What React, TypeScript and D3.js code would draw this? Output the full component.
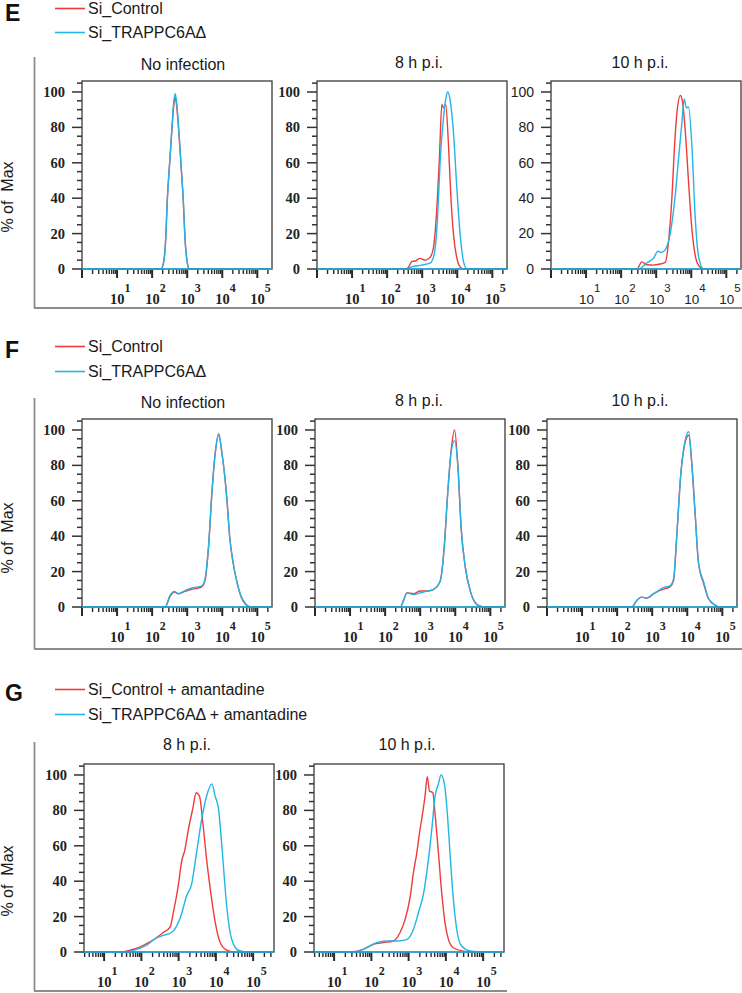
import React from 'react';
import * as d3 from 'd3';

const RED = '#ee3b3b';
const BLUE = '#22b5e8';

const xDecadeLabels = [1, 2, 3, 4, 5];
const yTickLabels = [0, 20, 40, 60, 80, 100];
const yTickValues = d3.range(0, 106, 5);

const legendEF = ['Si_Control', 'Si_TRAPPC6AΔ'];
const legendG = ['Si_Control + amantadine', 'Si_TRAPPC6AΔ + amantadine'];

// ---- E: No infection (log10 intensity, % of max)
const eNoInfLogX = [0, 2.25, 2.32, 2.39, 2.43, 2.5, 2.565, 2.62, 2.657, 2.695, 2.755, 2.82, 2.89, 2.935, 3.0, 3.06, 5.42];
const eNoInfRed = [0, 0, 3, 18, 38, 60, 79, 93, 97, 93, 79, 60, 38, 18, 4, 0, 0];
const eNoInfBlue = [0, 0, 3, 18, 38, 60, 80, 95, 99, 95, 80, 60, 38, 18, 4, 0, 0];

// ---- E: 8 h p.i.
const e8RedLogX = [0, 2.56, 2.71, 2.8, 2.94, 3.09, 3.23, 3.32, 3.42, 3.49, 3.56, 3.61, 3.67, 3.75, 3.82, 3.9, 3.99, 4.09, 4.18, 5.42];
const e8Red = [0, 0, 4.3, 4.5, 6, 5, 6.7, 12, 35, 62, 93, 91, 93, 70, 40, 18, 6, 1, 0, 0];
const e8BlueLogX = [0, 2.47, 2.75, 2.99, 3.23, 3.34, 3.44, 3.51, 3.61, 3.68, 3.73, 3.8, 3.9, 3.99, 4.09, 4.18, 4.28, 5.42];
const e8Blue = [0, 0, 1.5, 2.2, 3.5, 8, 30, 60, 86, 97, 100, 95, 75, 45, 18, 4, 0, 0];

// ---- E: 10 h p.i.
const e10RedLogX = [0, 2.45, 2.59, 2.73, 2.92, 3.11, 3.26, 3.35, 3.45, 3.51, 3.59, 3.69, 3.76, 3.84, 3.92, 4.02, 4.11, 4.21, 4.35, 5.42];
const e10Red = [0, 0, 4, 2.4, 2.2, 2.8, 3.7, 15, 41, 65, 88, 98, 93, 75, 50, 22, 8, 2, 0, 0];
const e10BlueLogX = [0, 2.5, 2.73, 2.92, 3.05, 3.14, 3.26, 3.4, 3.54, 3.64, 3.73, 3.8, 3.86, 3.92, 4.02, 4.11, 4.21, 4.35, 5.42];
const e10Blue = [0, 0, 3.4, 6, 10, 9.3, 11, 20, 41, 63, 82, 96, 91, 91.5, 69, 30, 7, 0, 0];

// ---- F: No infection
const fNoInfLogX = [0, 2.37, 2.51, 2.63, 2.75, 2.94, 3.13, 3.28, 3.42, 3.51, 3.61, 3.71, 3.8, 3.9, 3.99, 4.06, 4.14, 4.21, 4.31, 4.42, 4.53, 4.66, 4.8, 5.42];
const fNoInfRed = [0, 0, 6, 8.5, 7.5, 8.8, 10, 10.5, 11.5, 15, 34, 66, 87, 97, 87, 76, 59, 40, 25, 14, 6, 1.5, 0, 0];
const fNoInfBlue = [0, 0, 6.5, 8.8, 7.5, 9.3, 10.8, 11.2, 12, 16, 35, 66, 87, 98, 87, 76, 59, 40, 25, 14, 6.5, 2, 0, 0];

// ---- F: 8 h p.i.
const f8LogX = [0, 2.43, 2.53, 2.62, 2.81, 3.0, 3.19, 3.38, 3.57, 3.69, 3.78, 3.88, 3.98, 4.08, 4.17, 4.29, 4.43, 4.57, 4.71, 4.9, 5.42];
const f8Red = [0, 0, 4, 8, 7.5, 9, 9, 10, 14.6, 35, 63, 88, 100, 78, 44, 22, 9, 2.4, 0.5, 0, 0];
const f8Blue = [0, 0, 4, 8, 7, 8, 9, 10, 14.6, 35, 63, 87, 94, 78, 44, 22, 9, 2.4, 0.5, 0, 0];

// ---- F: 10 h p.i.
const f10LogX = [0, 2.42, 2.56, 2.7, 2.85, 3.04, 3.18, 3.32, 3.51, 3.61, 3.7, 3.82, 3.94, 4.04, 4.13, 4.23, 4.32, 4.47, 4.61, 4.8, 4.94, 5.42];
const f10Red = [0, 0, 3.7, 5.6, 5, 7.5, 9, 10, 11.5, 15, 40, 76, 93, 97, 81, 51, 25, 13, 4.5, 1, 0, 0];
const f10Blue = [0, 0, 3.7, 5.6, 5, 7.5, 9.3, 11, 12, 16, 40, 76, 94, 99, 81, 51, 25, 14, 4.7, 1, 0, 0];

// ---- G: 8 h p.i. (amantadine)
const g8RedLogX = [0.46, 1.43, 1.69, 1.96, 2.14, 2.37, 2.59, 2.77, 2.86, 2.99, 3.08, 3.17, 3.26, 3.38, 3.47, 3.56, 3.65, 3.75, 3.86, 3.98, 4.11, 4.29, 4.47, 5.56];
const g8Red = [0, 0, 1, 2.8, 4.7, 7.5, 11, 14, 22.5, 37.5, 51, 58, 69, 81, 90, 88, 73, 52.5, 34, 17, 5.6, 1, 0, 0];
const g8BlueLogX = [0.46, 1.61, 1.87, 2.14, 2.37, 2.59, 2.81, 3.04, 3.22, 3.35, 3.48, 3.62, 3.75, 3.89, 3.98, 4.07, 4.16, 4.29, 4.42, 4.6, 4.83, 5.56];
const g8Blue = [0, 0, 1.5, 3.8, 7.5, 9.4, 11, 19, 32, 38.5, 56, 75, 88, 95, 88, 81, 60, 26, 7.5, 1, 0, 0];

// ---- G: 10 h p.i. (amantadine)
const g10RedLogX = [0.46, 1.43, 1.78, 2.05, 2.32, 2.59, 2.77, 2.9, 3.04, 3.13, 3.22, 3.29, 3.35, 3.44, 3.5, 3.56, 3.65, 3.71, 3.8, 3.89, 3.98, 4.07, 4.2, 4.47, 4.65, 5.56];
const g10Red = [0, 0, 1.5, 4.3, 5.3, 6.2, 11, 18, 31, 45, 56, 67, 75, 88, 99, 91, 90, 78, 56, 33, 16, 7, 2.4, 0.5, 0, 0];
const g10BlueLogX = [0.46, 1.52, 1.87, 2.14, 2.41, 2.68, 2.95, 3.13, 3.26, 3.4, 3.53, 3.62, 3.71, 3.8, 3.87, 3.96, 4.04, 4.11, 4.2, 4.29, 4.42, 4.65, 4.92, 5.56];
const g10Blue = [0, 0, 2.4, 5.3, 6.2, 6.2, 7, 12.8, 22, 33, 52, 69, 88, 95, 100, 95, 78, 56, 30, 13, 3.4, 0.6, 0, 0];

// ---------------- layout -----------------
const PLOT_W = 190;
const PLOT_H = 188;
const Y_MAX = 106.2;
const DOMAIN_EF: [number, number] = [1, 262144];
const DOMAIN_G: [number, number] = [Math.pow(10, 0.46), Math.pow(10, 5.56)];

const SERIF = '"Liberation Serif", "Times New Roman", serif';
const SANS = '"Liberation Sans", Arial, sans-serif';

type Series = { logX: number[]; y: number[]; color: string };
type PanelSpec = {
  title: string;
  left: number;
  top: number;
  titleX: number;
  titleY: number;
  sans?: boolean;
  domain: [number, number];
  series: Series[];
};

const panels: PanelSpec[] = [
  { title: 'No infection', left: 82, top: 81, titleX: 183, titleY: 70, domain: DOMAIN_EF,
    series: [{ logX: eNoInfLogX, y: eNoInfRed, color: RED }, { logX: eNoInfLogX, y: eNoInfBlue, color: BLUE }] },
  { title: '8 h p.i.', left: 317, top: 81, titleX: 419, titleY: 68, domain: DOMAIN_EF,
    series: [{ logX: e8RedLogX, y: e8Red, color: RED }, { logX: e8BlueLogX, y: e8Blue, color: BLUE }] },
  { title: '10 h p.i.', left: 551, top: 81, titleX: 640, titleY: 68, sans: true, domain: DOMAIN_EF,
    series: [{ logX: e10RedLogX, y: e10Red, color: RED }, { logX: e10BlueLogX, y: e10Blue, color: BLUE }] },
  { title: 'No infection', left: 82, top: 419, titleX: 183, titleY: 408, domain: DOMAIN_EF,
    series: [{ logX: fNoInfLogX, y: fNoInfRed, color: RED }, { logX: fNoInfLogX, y: fNoInfBlue, color: BLUE }] },
  { title: '8 h p.i.', left: 315, top: 419, titleX: 419, titleY: 406, domain: DOMAIN_EF,
    series: [{ logX: f8LogX, y: f8Red, color: RED }, { logX: f8LogX, y: f8Blue, color: BLUE }] },
  { title: '10 h p.i.', left: 547, top: 419, titleX: 640, titleY: 406, domain: DOMAIN_EF,
    series: [{ logX: f10LogX, y: f10Red, color: RED }, { logX: f10LogX, y: f10Blue, color: BLUE }] },
  { title: '8 h p.i.', left: 84, top: 764, titleX: 187, titleY: 750, domain: DOMAIN_G,
    series: [{ logX: g8RedLogX, y: g8Red, color: RED }, { logX: g8BlueLogX, y: g8Blue, color: BLUE }] },
  { title: '10 h p.i.', left: 314, top: 764, titleX: 407, titleY: 750, domain: DOMAIN_G,
    series: [{ logX: g10RedLogX, y: g10Red, color: RED }, { logX: g10BlueLogX, y: g10Blue, color: BLUE }] },
];

type Block = { letter: string; letterY: number; legend: string[]; legendY: number[]; frameTop: number; frameBottom: number; frameRight: number; yLabelY: number };
const blocks: Block[] = [
  { letter: 'E', letterY: 21, legend: legendEF, legendY: [14, 38], frameTop: 57, frameBottom: 308, frameRight: 742, yLabelY: 197 },
  { letter: 'F', letterY: 358, legend: legendEF, legendY: [352, 377], frameTop: 398, frameBottom: 649, frameRight: 742, yLabelY: 538 },
  { letter: 'G', letterY: 701, legend: legendG, legendY: [695, 720], frameTop: 742, frameBottom: 991, frameRight: 507, yLabelY: 881 },
];

function Panel({ p, idx }: { p: PanelSpec; idx: number }) {
  const x = d3.scaleLog().domain(p.domain).range([p.left, p.left + PLOT_W]);
  const y = d3.scaleLinear().domain([0, Y_MAX]).range([p.top + PLOT_H, p.top]);
  const zeroY = y(0);
  const tickFont = p.sans ? SANS : SERIF;
  const xt = x.ticks(10).filter((v) => v >= p.domain[0] && v <= p.domain[1]);
  const clipId = `clip${idx}`;
  return (
    <g>
      <defs>
        <clipPath id={clipId}>
          <rect x={p.left} y={p.top - 2} width={PLOT_W} height={PLOT_H + 3} />
        </clipPath>
      </defs>
      <text x={p.titleX} y={p.titleY} textAnchor="middle" fontFamily={SANS} fontSize={16} fill="#1a1a1a">{p.title}</text>
      {yTickValues.map((v) => {
        const major = v % 20 === 0;
        return <line key={'yt' + v} x1={p.left - (major ? 10 : 5)} x2={p.left} y1={y(v)} y2={y(v)} stroke="#333" strokeWidth={1.5} />;
      })}
      {yTickLabels.map((v) => (
        <text key={'yl' + v} x={p.left - 17} y={y(v)} dy="0.35em" textAnchor="end" fontFamily={tickFont}
          fontSize={p.sans ? 14 : 14.5} fontWeight={p.sans ? 400 : 700} fill="#222">{v}</text>
      ))}
      {xt.map((v, i) => {
        const lg = Math.log10(v);
        const major = Math.abs(lg - Math.round(lg)) < 1e-6;
        return <line key={'xt' + i} x1={x(v)} x2={x(v)} y1={zeroY} y2={zeroY + (major ? 9 : 5)} stroke="#2a2a2a" strokeWidth={major ? 2 : 1.4} />;
      })}
      {xDecadeLabels.map((k) => (
        <text key={'xl' + k} x={x(Math.pow(10, k)) - 7} y={zeroY + 35} fontFamily={tickFont} fontSize={p.sans ? 13.5 : 14.5}
          fontWeight={p.sans ? 400 : 700} fill="#222">
          10<tspan dy={-12} fontSize={p.sans ? 11.5 : 12}>{k}</tspan>
        </text>
      ))}
      <g clipPath={`url(#${clipId})`}>
        {p.series.map((s, si) => {
          const pts: [number, number][] = s.logX.map((lx, i) => [x(Math.pow(10, lx)), y(s.y[i])]);
          const path = d3.line().curve(d3.curveMonotoneX)(pts) || '';
          return <path key={si} d={path} fill="none" stroke={s.color} strokeWidth={1.4} />;
        })}
      </g>
      <rect x={p.left} y={p.top} width={PLOT_W} height={PLOT_H} fill="none" stroke="#3a3a3a" strokeWidth={1.3} />
      <line x1={p.left} x2={p.left + PLOT_W} y1={zeroY} y2={zeroY} stroke={BLUE} strokeWidth={1.4} />
    </g>
  );
}

export default function App() {
  return (
    <svg width={742} height={993} style={{ position: 'absolute', left: 0, top: 0, background: '#fff' }}>
      <rect x={0} y={0} width={742} height={993} fill="#fff" />
      {blocks.map((b) => (
        <g key={b.letter}>
          <text x={5} y={b.letterY} fontFamily={SANS} fontWeight={700} fontSize={23} fill="#111">{b.letter}</text>
          {b.legend.map((t, i) => (
            <g key={t}>
              <line x1={55} x2={85} y1={b.legendY[i] - 5.5} y2={b.legendY[i] - 5.5} stroke={i === 0 ? RED : BLUE} strokeWidth={1.6} />
              <text x={88} y={b.legendY[i]} fontFamily={SANS} fontSize={16} fill="#1a1a1a">{t}</text>
            </g>
          ))}
          <line x1={34.5} x2={34.5} y1={b.frameTop} y2={b.frameBottom} stroke="#8c8c8c" strokeWidth={1.8} />
          <line x1={34} x2={b.frameRight} y1={b.frameBottom} y2={b.frameBottom} stroke="#8c8c8c" strokeWidth={1.8} />
          <text transform={`translate(13, ${b.yLabelY}) rotate(-90)`} textAnchor="middle" fontFamily={SANS} fontSize={16}
            fill="#1a1a1a" style={{ whiteSpace: 'pre' }}>{'% of  Max'}</text>
        </g>
      ))}
      {panels.map((p, i) => <Panel key={i} p={p} idx={i} />)}
    </svg>
  );
}
